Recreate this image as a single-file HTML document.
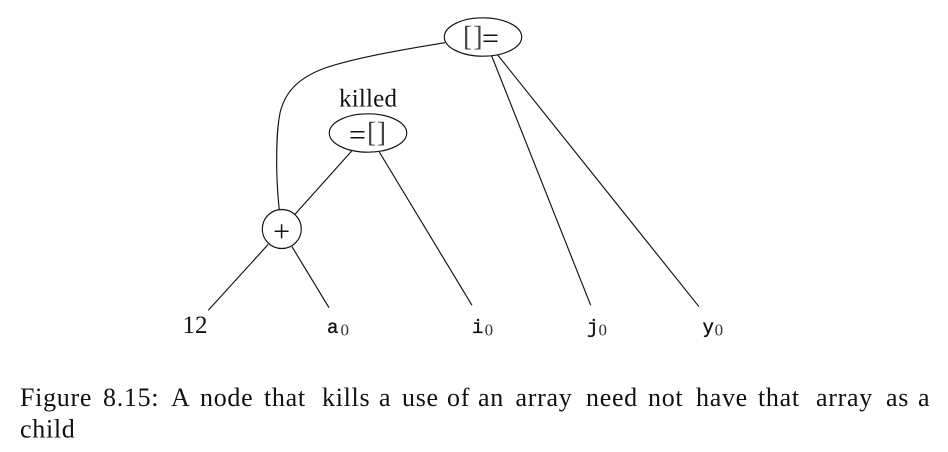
<!DOCTYPE html>
<html lang="en">
<head>
<meta charset="utf-8">
<title>Figure 8.15</title>
<style>
html,body{margin:0;padding:0;background:#fff;width:948px;height:452px;overflow:hidden}
svg{display:block}
.e{fill:none;stroke:#111;stroke-width:1.15}
.n{fill:#fff;stroke:#111;stroke-width:1.15}
text{font-family:"Liberation Serif",serif;fill:#111}
.l{font-size:25px}
.b{font-size:28px;fill:#444}
.q{font-size:30px}
.m{font-family:"Liberation Mono",monospace;font-size:19px;stroke:#111;stroke-width:.35}
.s{font-size:17px;fill:#333;stroke:none}
.c{font-size:26px;letter-spacing:.7px}
</style>
</head>
<body>
<svg width="948" height="452" viewBox="0 0 948 452" xmlns="http://www.w3.org/2000/svg">
<rect width="948" height="452" fill="#fff"/>
<g>
<path class="e" d="M445 42.7C400 50 355 58 325 68C298 78 285 92 280 113C277 128 276.5 145 276.7 168C277 185 278 198 279.3 210"/>
<line class="e" x1="351.7" y1="151" x2="295" y2="214.3"/>
<line class="e" x1="379.3" y1="152" x2="472" y2="305.3"/>
<line class="e" x1="491.7" y1="56" x2="590.7" y2="305.3"/>
<line class="e" x1="497.7" y1="55" x2="699" y2="306.7"/>
<line class="e" x1="268.3" y1="244.3" x2="208.3" y2="310.3"/>
<line class="e" x1="292" y1="246.7" x2="329" y2="307.7"/>
</g>
<g>
<ellipse class="n" cx="483" cy="37" rx="38.7" ry="19.2"/>
<text><tspan class="b" x="463" y="45.5">[</tspan><tspan class="b" x="473.2" y="45.5">]</tspan><tspan class="q" x="482" y="48">=</tspan></text>
</g>
<text class="l" x="339" y="106.7" textLength="58" lengthAdjust="spacing">killed</text>
<g>
<ellipse class="n" cx="368" cy="133" rx="38.7" ry="19.2"/>
<text><tspan class="q" x="349" y="144.3">=</tspan><tspan class="b" x="367" y="141.5">[</tspan><tspan class="b" x="376.8" y="141.5">]</tspan></text>
</g>
<g>
<circle class="n" cx="281.8" cy="229" r="19.5"/>
<text class="q" x="281.6" y="241" text-anchor="middle">+</text>
</g>
<g>
<text class="l" x="182.5" y="333">12</text>
<text x="327" y="333"><tspan class="m">a</tspan><tspan class="s" x="340.5" y="335.5">0</tspan></text>
<text x="472" y="333"><tspan class="m">i</tspan><tspan class="s" x="484.6" y="335.5">0</tspan></text>
<text x="587" y="333"><tspan class="m">j</tspan><tspan class="s" x="598.5" y="335.5">0</tspan></text>
<text x="702.5" y="333"><tspan class="m">y</tspan><tspan class="s" x="714.6" y="335.5">0</tspan></text>
</g>
<text class="c" y="406"><tspan x="20">Figure</tspan> <tspan x="103">8.15:</tspan> <tspan x="171">A</tspan> <tspan x="200">node</tspan> <tspan x="264">that</tspan> <tspan x="322">kills</tspan> <tspan x="379">a</tspan> <tspan x="402">use</tspan> <tspan x="447">of</tspan> <tspan x="478">an</tspan> <tspan x="515.5">array</tspan> <tspan x="586">need</tspan> <tspan x="648">not</tspan> <tspan x="696">have</tspan> <tspan x="758">that</tspan> <tspan x="816">array</tspan> <tspan x="886">as</tspan> <tspan x="918">a</tspan></text>
<text class="c" x="20" y="437.7">child</text>
</svg>
</body>
</html>
